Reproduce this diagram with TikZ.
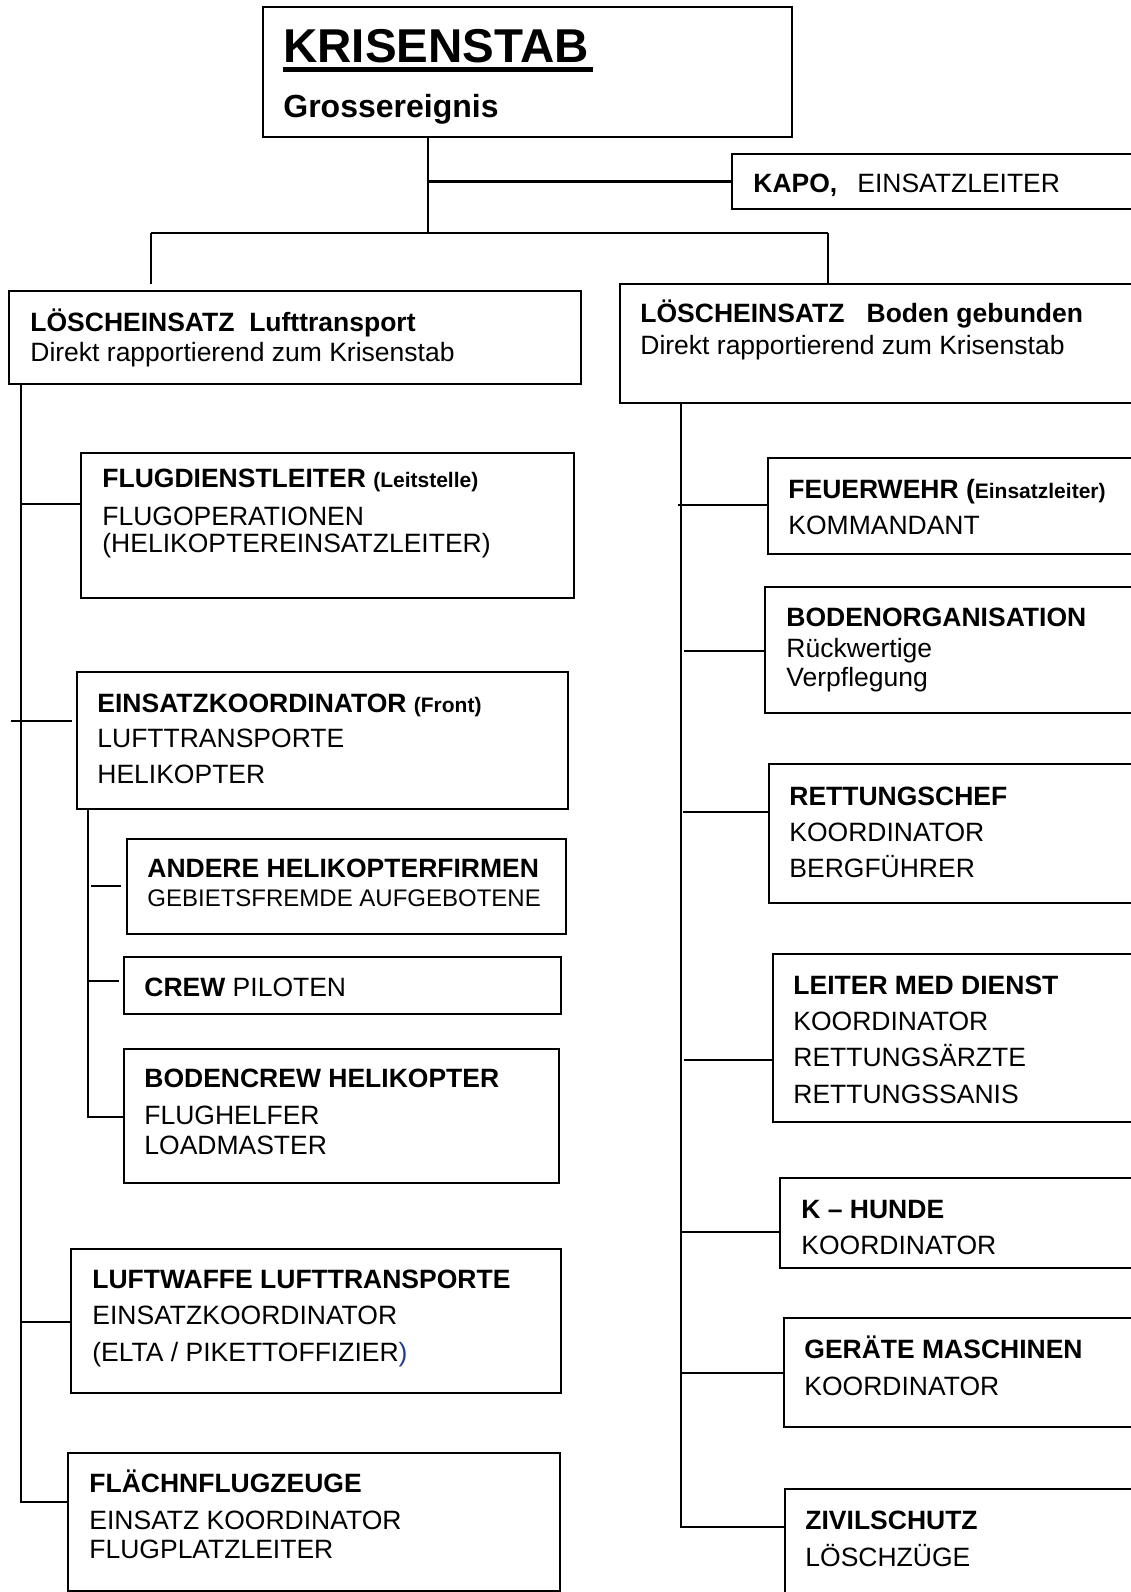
\documentclass[tikz,border=0pt]{standalone}
\usepackage{fontspec}
\setmainfont{Liberation Sans}
\usetikzlibrary{fit}
\definecolor{klammerblau}{HTML}{1F3E8C}
\newcommand{\klein}{\fontsize{10.5pt}{12pt}\selectfont}

\begin{document}
\begin{tikzpicture}[x=0.5pt, y=-0.5pt,
		box/.style={draw, line width=1pt, inner sep=0pt},
		txt/.style={anchor=base west, align=left, inner sep=0pt, font=\fontsize{13.25pt}{18pt}\selectfont},
		link/.style={line width=1pt}]
			% Page frame
			\useasboundingbox (0,0) rectangle (1131,1592);
			\clip (0,0) rectangle (1131,1592);
			
			% Draw the Krisenstab box (text nodes sit on their last baseline)
			\node[box, fit={(263,7) (792,137)}] (krisen) {};
			\node[txt, font=\fontsize{23.75pt}{28pt}\selectfont\bfseries] (krisen-t) at ([shift={(21,56)}]krisen.north west) {KRISENSTAB};
			\draw[line width=2.5pt] ([shift={(0,7)}]krisen-t.base west) -- ([shift={(4,7)}]krisen-t.base east);
			\node[txt, font=\fontsize{16pt}{19pt}\selectfont\bfseries] (krisen-u) at ([shift={(21,111)}]krisen.north west) {Grossereignis};
			
			% Draw the Kapo box
			\node[box, fit={(732,154) (1150,209)}] (kapo) {};
			\node[txt] (kapo-t) at ([shift={(22,39)}]kapo.north west) {\textbf{KAPO,}\hspace{10pt}EINSATZLEITER};
			
			% Draw the two Löscheinsatz boxes
			\node[box, fit={(9,291) (581,384)}] (lose) {};
			\node[txt] (lose-t) at ([shift={(22,71)}]lose.north west) {\textbf{LÖSCHEINSATZ\ \ Lufttransport}\\[-3pt] Direkt rapportierend zum Krisenstab};
			\node[box, fit={(620,284) (1150,403)}] (rose) {};
			\node[txt] (rose-t) at ([shift={(21,71)}]rose.north west) {\textbf{LÖSCHEINSATZ\ \ \ Boden gebunden}\\[-2pt] Direkt rapportierend zum Krisenstab};
			
			% Draw the stem and the bar
			\coordinate (stem) at (428,137);
			\coordinate (bar-l) at (151,233);
			\coordinate (bar-r) at (828,233);
			\draw[link] (stem) -- (stem |- bar-l);
			\draw[link, line width=1.3pt] (stem |- kapo.west) -- (kapo.west);
			\draw[link, line width=1.3pt] (bar-l) -- (bar-r);
			\draw[link] (bar-l) -- ([shift={(0,-6)}]lose.north -| bar-l);
			\draw[link] (bar-r) -- (rose.north -| bar-r);
			
			% Draw the boxes under Lufttransport
			\node[box, fit={(81,453) (574,598)}] (flug) {};
			\node[txt] (flug-t) at ([shift={(22,100)}]flug.north west) {\textbf{FLUGDIENSTLEITER {\klein(Leitstelle)}}\\[1pt] FLUGOPERATIONEN\\[-4.5pt] (HELIKOPTEREINSATZLEITER)};
			\node[box, fit={(77,672) (568,809)}] (ek) {};
			\node[txt] (ek-t) at ([shift={(21,112)}]ek.north west) {\textbf{EINSATZKOORDINATOR {\klein(Front)}}\\[-0.5pt] LUFTTRANSPORTE\\ HELIKOPTER};
			\node[box, fit={(127,839) (566,934)}] (andere) {};
			\node[txt] (andere-t) at ([shift={(21,68)}]andere.north west) {\textbf{ANDERE HELIKOPTERFIRMEN}\\[-3.5pt] {\fontsize{12pt}{14pt}\selectfont GEBIETSFREMDE AUFGEBOTENE}};
			\node[box, fit={(124,957) (561,1014)}] (crew) {};
			\node[txt] (crew-t) at ([shift={(21,40)}]crew.north west) {\textbf{CREW} PILOTEN};
			\node[box, fit={(124,1049) (559,1183)}] (bodencrew) {};
			\node[txt] (bodencrew-t) at ([shift={(21,106)}]bodencrew.north west) {\textbf{BODENCREW HELIKOPTER}\\[0.5pt] FLUGHELFER\\[-3pt] LOADMASTER};
			\node[box, fit={(71,1249) (561,1393)}] (luftwaffe) {};
			\node[txt] (luftwaffe-t) at ([shift={(22,113)}]luftwaffe.north west) {\textbf{LUFTWAFFE LUFTTRANSPORTE}\\ EINSATZKOORDINATOR\\[0.5pt] (ELTA / PIKETTOFFIZIER\textcolor{klammerblau}{)}};
			\node[box, fit={(68,1453) (560,1591)}] (flaechn) {};
			\node[txt] (flaechn-t) at ([shift={(22,106)}]flaechn.north west) {\textbf{FLÄCHNFLUGZEUGE}\\[0.5pt] EINSATZ KOORDINATOR\\[-3.5pt] FLUGPLATZLEITER};
			
			% Connect the left trunk
			\coordinate (ltr) at (21,384);
			\draw[link] (ltr) |- ([shift={(0,52)}]flug.north west);
			\draw[link] ([shift={(-65,50)}]ek.north west) -- ([shift={(-4,50)}]ek.north west);
			\draw[link] (ltr) |- ([shift={(0,74)}]luftwaffe.north west);
			\draw[link] (ltr) |- ([shift={(0,50)}]flaechn.north west);
			
			% Connect the helicopter trunk
			\coordinate (etr) at (88,809);
			\draw[link] ([shift={(-35,48)}]andere.north west) -- ([shift={(-5,48)}]andere.north west);
			\draw[link] (etr) |- ([shift={(-4,25)}]crew.north west);
			\draw[link] (etr) |- ([shift={(0,69)}]bodencrew.north west);
			
			% Draw the boxes under Boden gebunden
			\node[box, fit={(768,458) (1150,554)}] (feuer) {};
			\node[txt] (feuer-t) at ([shift={(21,77)}]feuer.north west) {\textbf{FEUERWEHR (}{\klein\bfseries Einsatzleiter)}\\ KOMMANDANT};
			\node[box, fit={(765,587) (1150,713)}] (bodenorg) {};
			\node[txt] (bodenorg-t) at ([shift={(22,100)}]bodenorg.north west) {\textbf{BODENORGANISATION}\\[-2.5pt] Rückwertige\\[-3.5pt] Verpflegung};
			\node[box, fit={(769,764) (1150,903)}] (rettung) {};
			\node[txt] (rettung-t) at ([shift={(21,114)}]rettung.north west) {\textbf{RETTUNGSCHEF}\\ KOORDINATOR\\ BERGFÜHRER};
			\node[box, fit={(773,954) (1150,1122)}] (leiter) {};
			\node[txt] (leiter-t) at ([shift={(21,150)}]leiter.north west) {\textbf{LEITER MED DIENST}\\ KOORDINATOR\\ RETTUNGSÄRZTE\\[0.5pt] RETTUNGSSANIS};
			\node[box, fit={(780,1178) (1150,1268)}] (khunde) {};
			\node[txt] (khunde-t) at ([shift={(22,77)}]khunde.north west) {\textbf{K – HUNDE}\\ KOORDINATOR};
			\node[box, fit={(784,1318) (1150,1427)}] (geraete) {};
			\node[txt] (geraete-t) at ([shift={(21,78)}]geraete.north west) {\textbf{GERÄTE MASCHINEN}\\[0.5pt] KOORDINATOR};
			\node[box, fit={(785,1489) (1150,1620)}] (zivil) {};
			\node[txt] (zivil-t) at ([shift={(21,78)}]zivil.north west) {\textbf{ZIVILSCHUTZ}\\[0.5pt] LÖSCHZÜGE};
			
			% Connect the right trunk
			\coordinate (rtr) at (681,403);
			\draw[link] ([shift={(-89,48)}]feuer.north west) -- ([shift={(0,48)}]feuer.north west);
			\draw[link] ([shift={(-80,65)}]bodenorg.north west) -- ([shift={(0,65)}]bodenorg.north west);
			\draw[link] ([shift={(-85,49)}]rettung.north west) -- ([shift={(0,49)}]rettung.north west);
			\draw[link] ([shift={(-88,107)}]leiter.north west) -- ([shift={(0,107)}]leiter.north west);
			\draw[link] (rtr) |- ([shift={(0,55)}]khunde.north west);
			\draw[link] (rtr) |- ([shift={(0,56)}]geraete.north west);
			\draw[link] (rtr) |- ([shift={(0,39)}]zivil.north west);
\end{tikzpicture}
\end{document}
